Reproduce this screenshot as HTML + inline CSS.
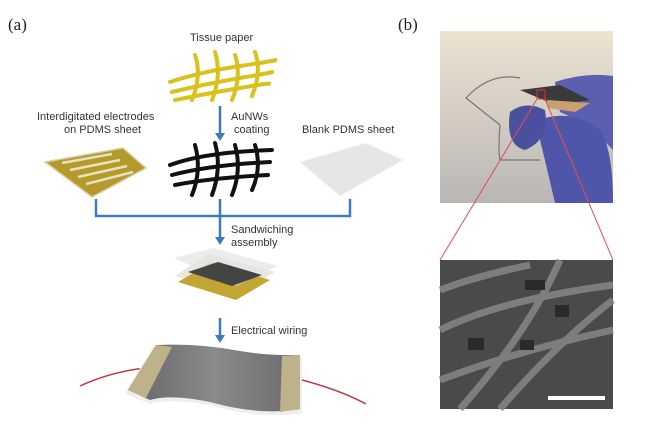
<!DOCTYPE html>
<html><head><meta charset="utf-8"><style>
html,body{margin:0;padding:0;background:#fff;}
svg{display:block}
text{font-family:"Liberation Sans",sans-serif;fill:#333;font-size:11px}
</style></head><body>
<svg width="650" height="432" viewBox="0 0 650 432" xmlns="http://www.w3.org/2000/svg">
<defs>
<linearGradient id="ph" x1="0" y1="0" x2="0" y2="1"><stop offset="0" stop-color="#ece3d2"/><stop offset="1" stop-color="#b9b6b4"/></linearGradient>
<linearGradient id="gr" x1="0" y1="0" x2="1" y2="0"><stop offset="0" stop-color="#666"/><stop offset="0.5" stop-color="#8a8a8a"/><stop offset="1" stop-color="#6a6a6a"/></linearGradient>
</defs>
<text x="8" y="30" style="font-family:'Liberation Serif',serif;font-size:17px;fill:#222">(a)</text>
<text x="398" y="30" style="font-family:'Liberation Serif',serif;font-size:17px;fill:#222">(b)</text>
<text x="190" y="41">Tissue paper</text>
<!-- yellow mesh -->
<g stroke="#d9c21c" stroke-width="4" fill="none" stroke-linecap="round">
<path d="M170 82 Q200 72 240 66 T275 60"/><path d="M172 92 Q205 84 240 78 T272 72"/><path d="M175 100 Q205 94 240 88 T268 84"/>
<path d="M195 55 Q202 75 192 100"/><path d="M215 52 Q222 75 212 100"/><path d="M235 55 Q242 76 232 100"/><path d="M255 52 Q262 72 252 96"/>
</g>
<!-- blue arrows -->
<g stroke="#3f7ac0" stroke-width="2.5" fill="none">
<line x1="220" y1="106" x2="220" y2="134"/>
<path d="M96 199 V216 H350 V199"/><line x1="220" y1="199" x2="220" y2="238"/>
<line x1="220" y1="318" x2="220" y2="336"/>
</g>
<g fill="#3f7ac0"><path d="M215 133 L225 133 L220 141Z"/><path d="M215 237 L225 237 L220 245Z"/><path d="M215 335 L225 335 L220 343Z"/></g>
<text x="231" y="120">AuNWs</text><text x="234" y="133">coating</text>
<text x="37" y="120">Interdigitated electrodes</text><text x="64" y="133">on PDMS sheet</text>
<text x="302" y="133">Blank PDMS sheet</text>
<text x="231" y="233">Sandwiching</text><text x="231" y="246">assembly</text>
<text x="231" y="334">Electrical wiring</text>
<!-- electrode sheet -->
<path d="M45 162 L123 148 L146 168 L92 197 Z" fill="#b49a2b" stroke="#d8d0a8" stroke-width="1.5"/>
<path d="M62 163 L112 154 M70 170 L120 160 M78 177 L127 166 M86 184 L133 172" stroke="#e8e0c0" stroke-width="2.5"/>
<!-- black mesh -->
<g stroke="#111" stroke-width="4" fill="none" stroke-linecap="round">
<path d="M170 165 Q205 152 272 150"/><path d="M172 175 Q210 165 270 162"/><path d="M175 185 Q210 178 268 175"/>
<path d="M195 145 Q202 170 192 195"/><path d="M215 143 Q222 168 212 195"/><path d="M235 145 Q242 170 232 195"/><path d="M255 145 Q262 168 252 190"/>
</g>
<!-- blank sheet -->
<path d="M300 162 L366 143 L403 160 L340 196 Z" fill="#e6e6e6" stroke="#f4f4f4"/>
<!-- sandwich -->
<path d="M175 276 L236 294 L275 272 L208 254 Z" fill="#e9e7dc"/>
<path d="M178 282 L236 300 L270 280 L212 262 Z" fill="#c2a533"/>
<path d="M174 258 L213 248 L278 266 L236 286 Z" fill="#e4e4e4" opacity="0.7"/>
<path d="M188 272 L232 286 L262 275 L218 262 Z" fill="#444"/>
<!-- final device -->
<path d="M80 386 Q110 372 145 368" stroke="#c0393b" stroke-width="1.5" fill="none"/>
<path d="M302 380 Q340 390 366 404" stroke="#c0393b" stroke-width="1.5" fill="none"/>
<path d="M125 393 L153 347 Q200 345 240 353 Q270 358 302 357 L302 413 Q260 420 210 405 Q170 398 150 404 Z" fill="#eee" />
<path d="M128 390 L156 345 Q200 343 240 351 Q270 356 300 355 L300 409 Q260 416 210 402 Q170 394 150 400 Z" fill="url(#gr)"/>
<path d="M128 390 L156 345 L172 347 L146 398 Z" fill="#bdb28a"/>
<path d="M282 356 L300 355 L300 409 L280 412 Z" fill="#bdb28a"/>
<!-- photo -->
<rect x="440" y="31" width="173" height="172" fill="url(#ph)"/>
<path d="M555 82 Q585 72 613 76 L613 150 Q590 125 560 112 Z" fill="#5b5fb0"/>
<path d="M545 118 Q575 110 600 130 Q613 150 613 203 L555 203 Q545 160 540 140 Z" fill="#4f55a8"/>
<path d="M510 112 Q525 100 545 110 Q550 140 525 150 Q505 145 510 112Z" fill="#4a4f9e"/>
<path d="M520 90 L560 85 L590 100 L555 105 Z" fill="#3a3a3a"/>
<path d="M547 100 L590 103 L575 112 L548 108Z" fill="#c9a070"/>
<path d="M520 78 Q490 72 466 98 L500 125 M500 125 Q498 150 500 160 L540 160" stroke="#777" stroke-width="1.2" fill="none"/>
<rect x="537" y="90" width="8" height="9" fill="none" stroke="#d33" stroke-width="1"/>
<path d="M537 99 L440 260 M545 99 L613 260" stroke="#e05050" stroke-width="1"/>
<!-- SEM -->
<rect x="440" y="260" width="173" height="149" fill="#4a4a4a"/>
<g stroke="#8a8a8a" stroke-width="7" fill="none" opacity="0.8">
<path d="M440 330 Q500 300 613 285"/><path d="M440 380 Q520 350 613 330"/><path d="M460 409 Q530 330 560 260"/><path d="M500 409 Q560 340 613 300"/><path d="M440 290 Q480 275 530 265"/>
</g>
<g fill="#2a2a2a"><rect x="468" y="338" width="16" height="12"/><rect x="520" y="340" width="14" height="10"/><rect x="555" y="305" width="14" height="12"/><rect x="525" y="280" width="20" height="10"/></g>
<rect x="548" y="396" width="57" height="4" fill="#fff"/>
</svg>
</body></html>
